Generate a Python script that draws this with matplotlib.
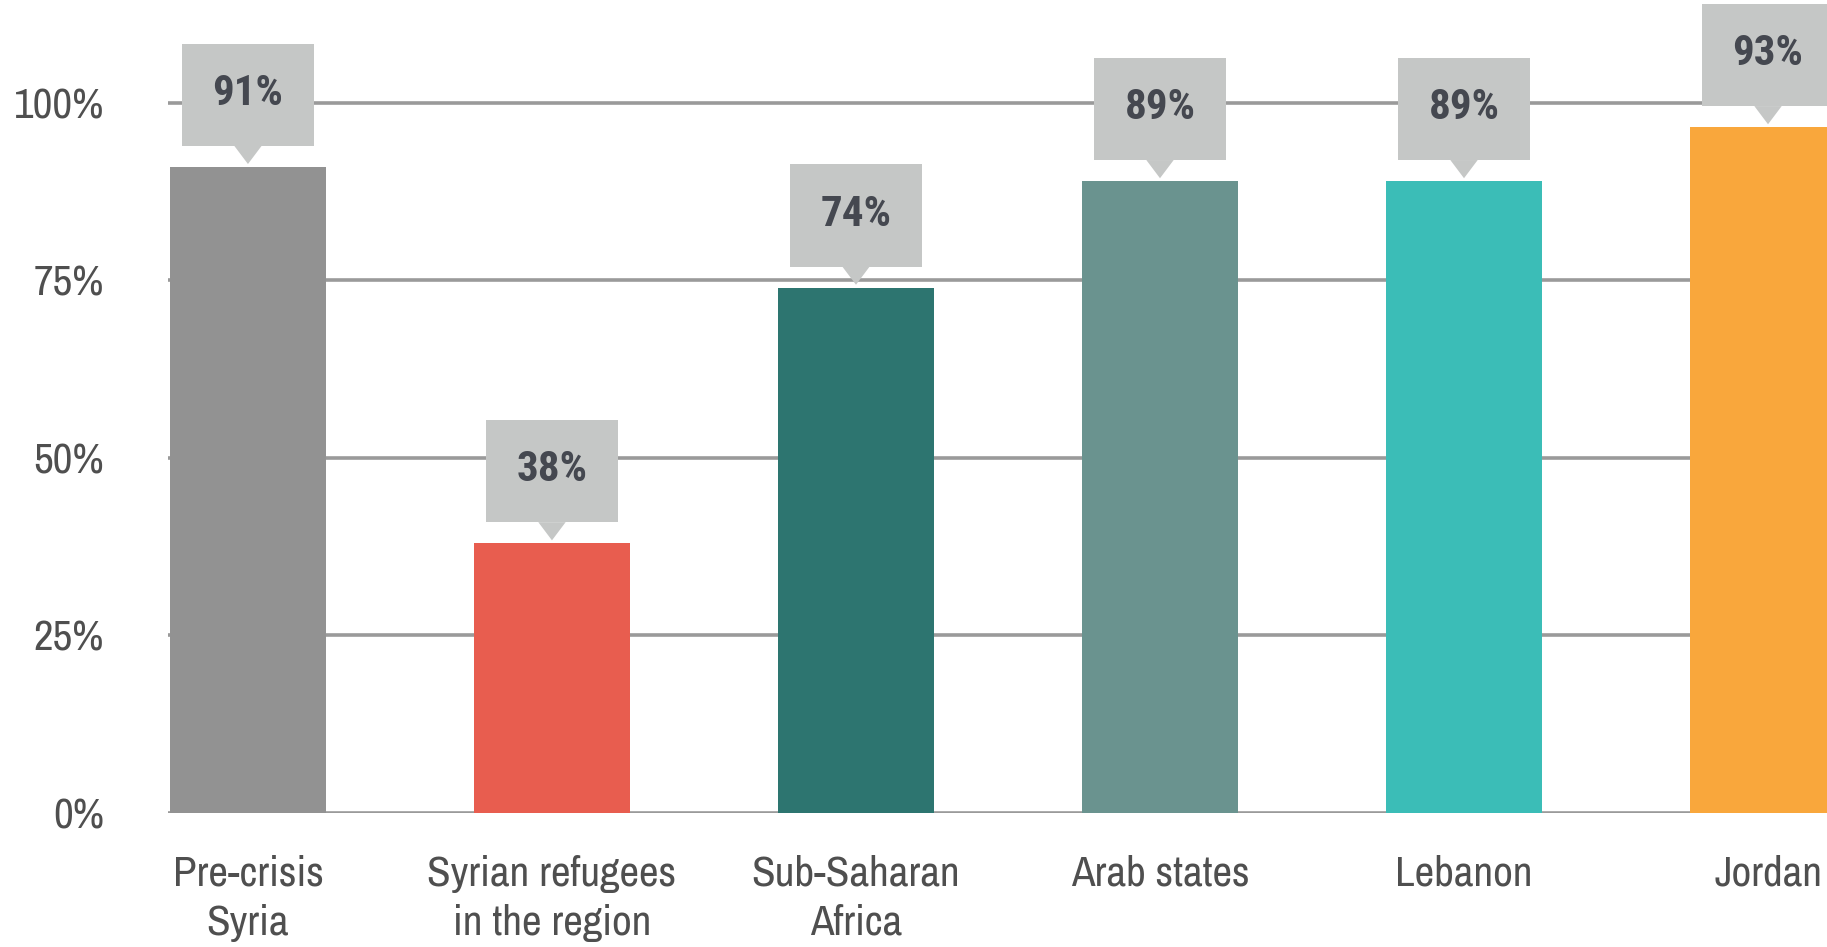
import matplotlib
matplotlib.use("Agg")
import matplotlib.pyplot as plt
from matplotlib.patches import Rectangle, Polygon

categories = ["Pre-crisis\nSyria", "Syrian refugees\nin the region", "Sub-Saharan\nAfrica",
              "Arab states", "Lebanon", "Jordan"]
# bar heights as drawn in the picture (Jordan's bar is drawn taller than its label)
heights = [91, 38, 74, 89, 89, 96.6]
value_labels = ["91%", "38%", "74%", "89%", "89%", "93%"]
colors = ["#929292", "#e85d4f", "#2d7570", "#6a938f", "#3bbdb7", "#f9a73c"]
yticks = [0, 25, 50, 75, 100]
ytick_labels = ["0%", "25%", "50%", "75%", "100%"]

plt.rcParams["font.family"] = ["Archivo Narrow", "Roboto Condensed", "DejaVu Sans"]

fig = plt.figure(figsize=(18.27, 9.47), dpi=100)
ax = fig.add_axes([168 / 1827, 134 / 947, 1 - 168 / 1827, 813 / 947])

x = list(range(len(categories)))
ax.bar(x, heights, width=0.513, color=colors, zorder=3)

ax.set_xlim(-0.263, 5.194)
ax.set_ylim(0, 114.5)

for yv in yticks:
    ax.axhline(yv, color="#9a9a9a", lw=2.6, zorder=1)

# callout boxes above the bars
box_w = 0.434
for xi, h, lab in zip(x, heights, value_labels):
    b0 = h + 2.96
    ax.add_patch(Rectangle((xi - box_w / 2, b0), box_w, 14.4, facecolor="#c5c7c6",
                           edgecolor="none", zorder=4))
    ax.add_patch(Polygon([(xi - 0.045, b0), (xi + 0.045, b0), (xi, h + 0.4)],
                         closed=True, facecolor="#c5c7c6", edgecolor="none", zorder=4))
    ax.text(xi, b0 + 7.4, lab, ha="center", va="center", fontsize=31,
            fontweight="bold", color="#454850", zorder=5,
            family=["Roboto Condensed", "DejaVu Sans"])

ax.set_yticks(yticks)
ax.set_yticklabels(ytick_labels, fontsize=31, color="#4f4f4f")
ax.set_xticks(x)
ax.set_xticklabels(categories, fontsize=31, color="#4f4f4f", linespacing=1.35)
ax.tick_params(axis="y", length=0, pad=46)
ax.tick_params(axis="x", length=0, pad=30)
for s in ax.spines.values():
    s.set_visible(False)

fig.savefig("out.png", dpi=100)
